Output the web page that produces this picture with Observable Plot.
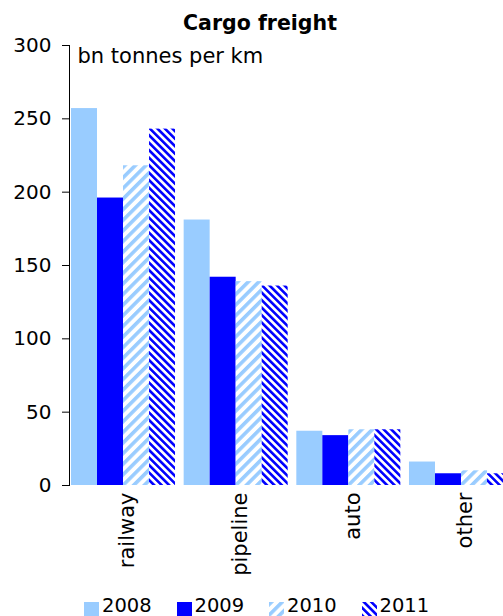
<!DOCTYPE html>
<html>
<head>
<meta charset="utf-8">
<script src="https://cdn.jsdelivr.net/npm/d3@7"></script>
<script src="https://cdn.jsdelivr.net/npm/@observablehq/plot@0.6"></script>
<style>
  body { margin: 0; background: #fff; font-family: "DejaVu Sans", sans-serif; color: #000; }
  #wrap { position: relative; width: 503px; height: 616px; overflow: hidden; }
  #title { box-sizing: border-box; height: 33px; padding: 13px 0 0 17px; font: bold 20.5px/20px "DejaVu Sans", sans-serif; text-align: center; }
  #legend { display: flex; padding-left: 84px; height: 20px; font: 19.5px/19px "DejaVu Sans", sans-serif; }
  .item { display: flex; align-items: flex-start; width: 92.5px; flex: none; }
  .sw { width: 15px; height: 15px; margin: 6px 3px 0 0; flex: none; }
</style>
</head>
<body>
<!-- hatch fills shared by the bars and the legend swatches -->
<svg width="0" height="0" style="position:absolute">
  <defs>
    <pattern id="hatch2010" patternUnits="userSpaceOnUse" width="7.5" height="7.5" patternTransform="rotate(45)">
      <rect width="7.5" height="7.5" fill="#ffffff"/>
      <rect width="3.6" height="7.5" fill="#99ccff"/>
    </pattern>
    <pattern id="hatch2011" patternUnits="userSpaceOnUse" width="5.3" height="5.3" patternTransform="rotate(-45)">
      <rect width="5.3" height="5.3" fill="#ffffff"/>
      <rect width="2.6" height="5.3" fill="#0000ff"/>
    </pattern>
  </defs>
</svg>
<div id="wrap">
  <div id="title">Cargo freight</div>
  <div id="chart"></div>
  <div id="legend"></div>
</div>
<script>
// Freight turnover by transport mode, bn tonnes per km
const categories = ["railway", "pipeline", "auto", "other"];
const years = ["2008", "2009", "2010", "2011"];
const values2008 = [257, 181, 37, 16];
const values2009 = [196, 142, 34, 8];
const values2010 = [218, 139, 38, 10];
const values2011 = [243, 136, 38, 8];
const yTicks = [0, 50, 100, 150, 200, 250, 300];
const unitLabel = "bn tonnes per km";
const yearFills = ["#99ccff", "#0000ff", "url(#hatch2010)", "url(#hatch2011)"];

const seriesByYear = [values2008, values2009, values2010, values2011];
const rows = [];
categories.forEach((category, i) => {
  years.forEach((year, j) => {
    rows.push({category, year, value: seriesByYear[j][i]});
  });
});

const chart = Plot.plot({
  width: 503,
  height: 563,
  marginTop: 12,
  marginBottom: 111,
  marginLeft: 69,
  marginRight: -10,
  style: {fontFamily: '"DejaVu Sans", sans-serif', fontSize: "20px", color: "#000", background: "transparent"},
  fx: {domain: categories, paddingInner: 0.059, paddingOuter: 0, round: false},
  x: {domain: years, padding: 0, insetLeft: 2, round: false, axis: null},
  y: {domain: [0, 300]},
  color: {domain: years, range: yearFills},
  marks: [
    Plot.barY(rows, {fx: "category", x: "year", y: "value", fill: "year"}),
    Plot.axisY({ticks: yTicks, tickSize: 7, tickPadding: 11, fontSize: 20, label: null}),
    Plot.frame({anchor: "left", facetAnchor: "left"}),
    Plot.axisFx({anchor: "bottom", tickRotate: -90, tickSize: 0, tickPadding: 7, fontSize: 21, label: null, dx: 5}),
    Plot.text([{category: categories[0], label: unitLabel}], {
      fx: "category", text: "label", frameAnchor: "top-left",
      textAnchor: "start", lineAnchor: "bottom", dx: 8, dy: 17, fontSize: 21
    })
  ]
});
document.getElementById("chart").appendChild(chart);

// legend: one swatch per year
const legend = document.getElementById("legend");
years.forEach((year, j) => {
  const item = document.createElement("div");
  item.className = "item";
  item.innerHTML = `<svg class="sw" width="15" height="15"><rect width="15" height="15" fill="${yearFills[j]}"/></svg><span>${year}</span>`;
  legend.appendChild(item);
});
</script>
</body>
</html>
